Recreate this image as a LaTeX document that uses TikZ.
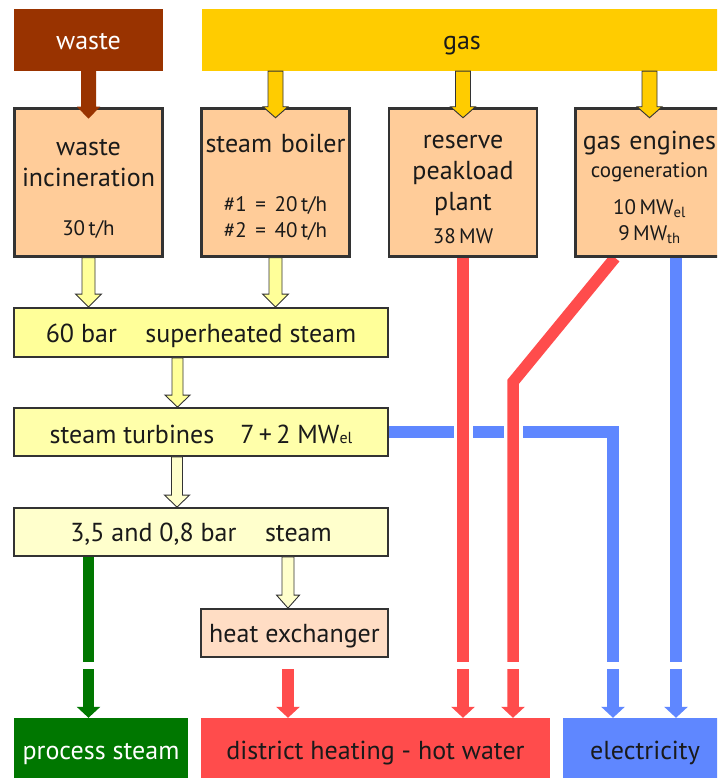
\documentclass[tikz,border=0pt]{standalone}
\usepackage{fontspec}
\setmainfont{PT Sans}
\usetikzlibrary{calc,arrows.meta}
\pgfdeclarelayer{background}
\pgfsetlayers{background,main}
\definecolor{wastec}{HTML}{993300}
\definecolor{gasc}{HTML}{FFCC00}
\definecolor{orangebox}{HTML}{FFCC99}
\definecolor{yboxa}{HTML}{FFFF99}
\definecolor{yboxb}{HTML}{FFFFAA}
\definecolor{yboxc}{HTML}{FFFFCC}
\definecolor{hxc}{HTML}{FFDDC4}
\definecolor{redc}{HTML}{FF4C4C}
\definecolor{bluec}{HTML}{5F87FF}
\definecolor{greenc}{HTML}{007700}
\definecolor{edgec}{HTML}{333333}
\definecolor{textc}{HTML}{1A1A1A}
\newcommand\bigf{\fontsize{26}{31}\selectfont}
\newcommand\smf{\fontsize{21}{25}\selectfont}
\newcommand\topstrut{\rule{0pt}{28pt}}
\newcommand\fatarrow[6]{\path[#1] let \p1=(#2), \p2=(#3) in
  (\x1-#4,\y1) -- (\x1-#4,\y2+#6) -- (\x1-#5,\y2+#6) -- (\x1,\y2) --
  (\x1+#5,\y2+#6) -- (\x1+#4,\y2+#6) -- (\x1+#4,\y1) -- cycle;}
\begin{document}
\begin{tikzpicture}[x=1pt,y=-1pt,
  topbox/.style={minimum height=62pt, inner sep=0pt, font=\bigf, text height=20pt, text depth=0pt},
  procbox/.style={draw=edgec, line width=2.5pt, fill=orangebox, minimum width=148pt,
    minimum height=148pt, text width=148pt, inner sep=0pt, align=center, font=\bigf, text=textc},
  ybox/.style={draw=edgec, line width=1.8pt, minimum height=48pt, inner sep=0pt, font=\bigf, text=textc,
    text height=19pt, text depth=0pt},
  outbox/.style={minimum height=62pt, inner sep=0pt, font=\bigf, text height=20pt, text depth=0pt},
  flow/.style={line width=11.5pt, line join=miter, -{Triangle[width=23pt,length=11pt]}},
  gasarrow/.style={fill=gasc, draw=edgec, line width=0.9pt},
  larrowa/.style={fill=yboxa, draw=edgec, line width=0.9pt},
  larrowc/.style={fill=yboxc, draw=edgec, line width=0.9pt}]
\useasboundingbox (0,0) rectangle (717,778);
\clip (0,0) rectangle (717,778);
% boxes
\node[topbox, fill=wastec, text=white, minimum width=149pt] (waste) at (88.5,40) {waste};
\node[topbox, fill=gasc, text=textc, minimum width=520pt] (gas) at (462,40) {gas};
\node[procbox] (inc) at (88.5,182.5) {\topstrut waste\\incineration\\[18pt]{\smf 30\,t/h}};
\node[procbox] (boiler) at (275.5,182.5) {\topstrut steam boiler\\[28pt]{\smf \#1 = 20\,t/h}\\[-5pt]{\smf \#2 = 40\,t/h}};
\node[procbox] (reserve) at (463,182.5) {\topstrut reserve\\peakload\\plant\\[2pt]{\smf 38\,MW}};
\node[procbox] (engines) at (649.5,182.5) {\topstrut gas engines\\[-3pt]{\smf cogeneration}\\[6pt]{\smf 10\,MW\textsubscript{el}}\\[-5pt]{\smf 9\,MW\textsubscript{th}}};
\node[ybox, fill=yboxa, minimum width=374pt, minimum height=49pt] (sh) at (201,332.5) {60 bar\hspace{1.1em}superheated steam};
\node[ybox, fill=yboxb, minimum width=374pt, text height=23pt] (st) at (201,432) {steam turbines\hspace{1em}7\,+\,2 MW{\fontsize{16}{16}\selectfont el}};
\node[ybox, fill=yboxc, minimum width=374pt] (lowp) at (201,532) {3,5 and 0,8 bar\hspace{1.1em}steam};
\node[ybox, fill=hxc, minimum width=187pt] (hx) at (294.5,633) {heat exchanger};
\node[outbox, fill=greenc, text=white, minimum width=174pt] (ps) at (101,749) {process steam};
\node[outbox, fill=redc, text=textc, minimum width=349pt] (dh) at (375.5,749) {district heating - hot water};
\node[outbox, fill=bluec, text=textc, minimum width=164pt] (el) at (645,749) {electricity};
% connector coordinates
\coordinate (bend) at (513,382);
\coordinate (tc) at (613,432);
\coordinate (eR) at ([xshift=-34.5pt]engines.south);
\coordinate (eB) at ([xshift=26.5pt]engines.south);
\coordinate (hxo) at ([xshift=-6.5pt,yshift=-11pt]hx.south);
% flows
\begin{pgfonlayer}{background}
\fill[white] (0,0) rectangle (717,778);
\draw[flow, greenc] (lowp.south -| inc) -- (ps.north -| inc);
\draw[flow, bluec] (st.east) -- (tc) -- (tc |- el.north);
\draw[flow, bluec] (eB) -- (eB |- el.north);
\draw[white, line width=19pt] (463,419) -- (463,447);
\draw[white, line width=19pt] (513,419) -- (513,447);
\draw[flow, redc] (reserve.south) -- (reserve.south |- dh.north);
\draw[flow, redc] (eR) -- (bend) -- (bend |- dh.north);
\draw[flow, redc] (hxo) -- (hxo |- dh.north);
\fill[white] (60,662) rectangle (700,669);
\end{pgfonlayer}
% fat arrows
\fatarrow{fill=wastec}{waste.south}{[yshift=-11.5pt]inc.north}{7.5pt}{11.5pt}{12pt}
\fatarrow{gasarrow}{boiler |- gas.south}{[yshift=-10.5pt]boiler.north}{7.5pt}{12.5pt}{11pt}
\fatarrow{gasarrow}{reserve |- gas.south}{[yshift=-10.5pt]reserve.north}{7.5pt}{12.5pt}{11pt}
\fatarrow{gasarrow}{engines |- gas.south}{[yshift=-10.5pt]engines.north}{7.5pt}{12.5pt}{11pt}
\fatarrow{larrowa}{inc.south}{inc |- sh.north}{6.5pt}{13pt}{13pt}
\fatarrow{larrowa}{boiler.south}{boiler |- sh.north}{6.5pt}{13pt}{13pt}
\fatarrow{larrowa}{[xshift=-23.5pt]sh.south}{[xshift=-23.5pt]st.north}{5.5pt}{12.5pt}{12pt}
\fatarrow{larrowc}{[xshift=-24pt]st.south}{[xshift=-24pt]lowp.north}{5.5pt}{12.5pt}{12pt}
\fatarrow{larrowc}{[xshift=87pt]lowp.south}{[xshift=-6.5pt]hx.north}{6pt}{11.5pt}{13pt}
\end{tikzpicture}
\end{document}
